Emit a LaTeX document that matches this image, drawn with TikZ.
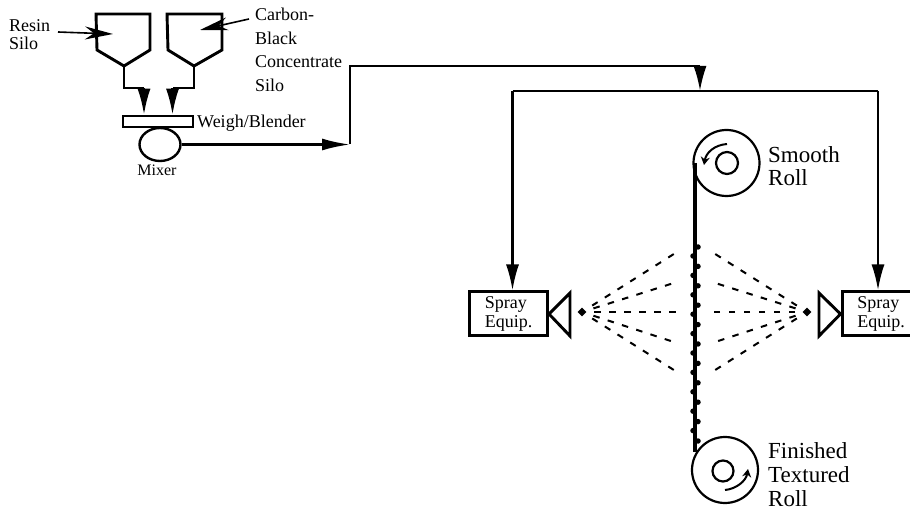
\documentclass[tikz,border=0pt]{standalone}
\usepackage{fontspec}
\setmainfont{Liberation Serif}
\usetikzlibrary{arrows.meta,shapes.geometric}
\tikzset{
  flowline/.style={line width=2.3pt,-{Latex[length=26pt,width=13pt]}},
  plainline/.style={line width=2.3pt},
  callout/.style={line width=1.6pt,-{Stealth[length=28pt,width=13pt,inset=9pt]}},
  vessel/.style={draw,line width=2.9pt,line join=miter},
  spraybox/.style={draw,line width=3pt,minimum width=78pt,minimum height=44pt,inner sep=0pt,align=left,font=\fontsize{18}{19}\selectfont},
  spraydash/.style={line width=2pt,dash pattern=on 6.5pt off 8.5pt,shorten <=12pt},
  nozzle/.style={diamond,fill=black,inner sep=0pt,minimum size=9pt},
  rollbody/.style={circle,draw,line width=2.2pt,inner sep=0pt},
  turnarrow/.style={line width=2pt,-{Stealth[length=8pt,width=9pt]}},
  smalltext/.style={inner sep=0pt,align=left,font=\fontsize{18}{23.5}\selectfont},
  largetext/.style={inner sep=0pt,align=left,font=\fontsize{23}{23.5}\selectfont}
}
\begin{document}
\begin{tikzpicture}[x=1pt,y=-1pt,line cap=butt,line join=miter,>=latex]
  \useasboundingbox (0,0) rectangle (910,510);
  % silos and mixer
  \draw[vessel] (96,14) -- (150,14) -- (150,50) -- (124,66) -- (97,50) -- cycle;
  \draw[vessel] (167,14) -- (222,14) -- (222,50) -- (194,66) -- (168,50) -- cycle;
  \node[draw,line width=2.6pt,minimum width=70pt,minimum height=11pt,inner sep=0pt] (blender) at (158,121.5) {};
  \node[ellipse,draw,line width=2.4pt,minimum width=41pt,minimum height=33pt,inner sep=0pt] (mixer) at (160,144.5) {};
  \coordinate (resinout) at (124,66);
  \coordinate (resindrop) at (144,88);
  \coordinate (blackout) at (194,66);
  \coordinate (blackdrop) at (172.5,88);
  \draw[plainline] (resinout) |- (resindrop);
  \draw[plainline] (blackout) |- (blackdrop);
  \draw[flowline] (resindrop) -- (resindrop |- blender.north);
  \draw[flowline] (blackdrop) -- (blackdrop |- blender.north);
  % feed line
  \coordinate (mixerout) at (350,144.5);
  \coordinate (riser) at (350,66);
  \coordinate (feed) at (700,66);
  \coordinate (split) at (700,91);
  \coordinate (splitleft) at (512.5,91);
  \coordinate (splitright) at (878,91);
  \draw[line width=2.3pt,-{Latex[length=28pt,width=12pt]}] (mixer.east) -- (mixerout);
  \draw[plainline] (mixerout) -- (riser) -- (feed);
  \draw[line width=2.3pt,-{Latex[length=25pt,width=13pt]}] (feed) -- (split);
  % spray equipment
  \node[spraybox] (sprayleft) at (508.5,314) {Spray\\Equip.};
  \node[spraybox] (sprayright) at (881,314) {Spray\\Equip.};
  \draw[vessel] (sprayleft.east) -- (570,293) -- (570,336) -- cycle;
  \draw[vessel] (sprayright.west) -- (819,293) -- (819,336) -- cycle;
  \draw[plainline] (splitleft) -- (splitright);
  \draw[flowline] (splitleft) -- (splitleft |- sprayleft.north);
  \draw[flowline] (splitright) -- (splitright |- sprayright.north);
  \node[nozzle] (jetleft) at (582,312) {};
  \node[nozzle] (jetright) at (807,312) {};
  \foreach \yend in {252,282,312,343,372} {
    \draw[spraydash] (jetleft.center) -- (677,\yend);
    \draw[spraydash] (jetright.center) -- (712,\yend);
  }
  % rolls and web
  \node[rollbody,minimum size=66pt] (smoothroll) at (726.5,163) {};
  \node[rollbody,minimum size=22pt] (smoothcore) at (727,163) {};
  \node[rollbody,minimum size=66pt] (finishedroll) at (725,470) {};
  \node[rollbody,minimum size=21pt] (finishedcore) at (723,471) {};
  \coordinate (webtop) at (695,163);
  \coordinate (webend) at (695,452);
  \draw[line width=4.6pt] (webtop) -- (webend);
  \draw[line width=5.5pt,line cap=round,dash pattern=on 0pt off 19.4pt] (698,247) -- (698,448);
  \draw[line width=5.5pt,line cap=round,dash pattern=on 0pt off 19.4pt] (693,256) -- (693,448);
  \draw[turnarrow] (727,144) .. controls (714,145) and (706,153) .. (704,165);
  \draw[turnarrow] (725,490) .. controls (736,489) and (746,481) .. (748,469);
  % labels
  \node[smalltext,anchor=north west,font=\fontsize{18}{18}\selectfont] (resinlabel) at (9,19) {Resin\\Silo};
  \node[smalltext,anchor=north west] (blacklabel) at (255,8) {Carbon-\\Black\\Concentrate\\Silo};
  \node[smalltext,anchor=west] (weighlabel) at (197,123) {Weigh/Blender};
  \node[smalltext,anchor=north,font=\fontsize{16}{18}\selectfont] (mixerlabel) at (157,165) {Mixer};
  \node[largetext,anchor=north west] (smoothlabel) at (768,146) {Smooth\\Roll};
  \node[largetext,anchor=north west,font=\fontsize{23}{24}\selectfont] (finishedlabel) at (768,442) {Finished\\Textured\\Roll};
  \coordinate (resintail) at (58,32);
  \coordinate (resintip) at (113,34);
  \coordinate (blacktail) at (249,19);
  \coordinate (blacktip) at (200,30);
  \draw[callout] (resintail) -- (resintip);
  \draw[callout] (blacktail) -- (blacktip);
\end{tikzpicture}
\end{document}
